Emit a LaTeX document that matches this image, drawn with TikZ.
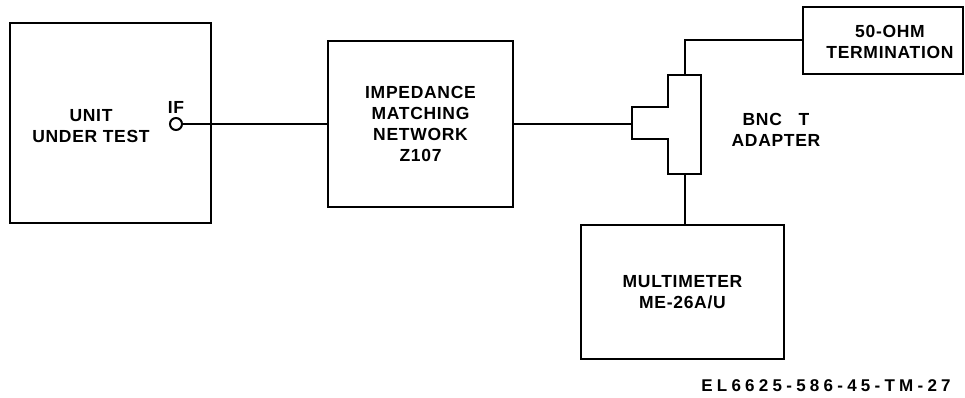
\documentclass[tikz,border=0pt]{standalone}
\usepackage{fontspec}
\setmainfont{Liberation Sans}
\usetikzlibrary{positioning}

\begin{document}
\begin{tikzpicture}[
    x=1pt, y=-1pt,
    box/.style={rectangle, draw, line width=2.2pt, inner sep=0pt, align=center, font=\lbl},
    txt/.style={align=center, inner sep=0pt, font=\lbl},
    wire/.style={line width=2pt, line join=miter},
    port/.style={circle, draw, line width=2pt, fill=white, minimum size=12pt, inner sep=0pt}
]
\providecommand\lbl{\bfseries\fontsize{17.5}{21}\selectfont\addfontfeatures{LetterSpace=4}}
\useasboundingbox (0,0) rectangle (965,398);

% Nodes
\node[box, minimum width=201pt, minimum height=200pt] (uut) at (110.5,123) {};
\node[txt] (uut-txt) at (91,126) {UNIT\\UNDER TEST};
\node[port] (ifport) at (176,124) {};
\node[txt, above=3pt of ifport] (if-txt) {IF};

\node[box, minimum width=185pt, minimum height=166pt] (imp) at (420.5,124) {IMPEDANCE\\MATCHING\\NETWORK\\Z107};

\node[box, minimum width=160pt, minimum height=67pt] (term) at (883,40.5) {};
\node[txt] (term-txt) at (890,42) {50-OHM\\TERMINATION};

\node[box, minimum width=203pt, minimum height=134pt] (mm) at (682.5,292) {MULTIMETER\\ME-26A/U};

\node[txt] (tee-txt) at (776,130) {BNC\ \ \ T\\ADAPTER};

\node[txt, font=\bfseries\fontsize{17}{20}\selectfont\addfontfeatures{LetterSpace=25}] (fig-id) at (826,386) {EL6625-586-45-TM-27};

% BNC T adapter
\draw[wire] (668,75) -- (701,75) -- (701,174) -- (668,174) -- (668,139)
  -- (632,139) -- (632,107) -- (668,107) -- cycle;
\coordinate (tee-in) at (632,124);
\coordinate (tee-top) at (684.5,75);
\coordinate (tee-bot) at (684.5,174);

% Wires
\draw[wire] (ifport.east) -- (imp.west);
\draw[wire] (imp.east) -- (tee-in);
\draw[wire] (tee-top) |- (term.west);
\draw[wire] (tee-bot) -- (tee-bot |- mm.north);

\end{tikzpicture}
\end{document}
